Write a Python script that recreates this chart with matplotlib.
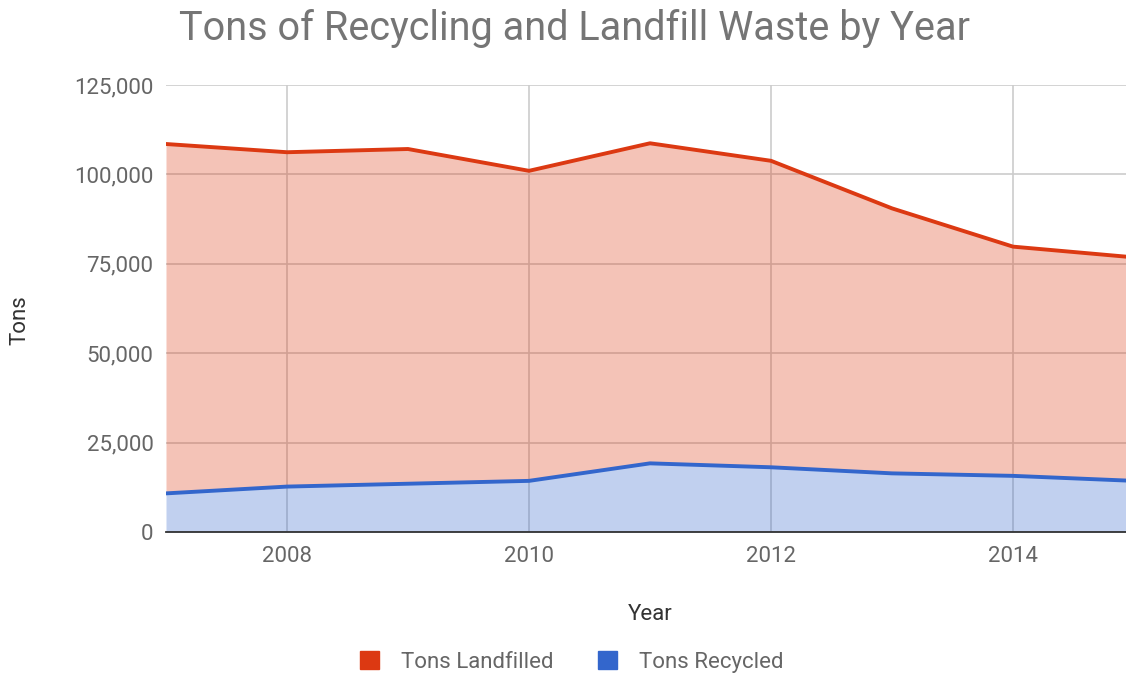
import matplotlib.pyplot as plt
from matplotlib.ticker import FuncFormatter
from matplotlib.patches import Patch

plt.rcParams['font.family'] = ['Roboto', 'DejaVu Sans']

years = [2007, 2008, 2009, 2010, 2011, 2012, 2013, 2014, 2015]
landfilled = [108500, 106200, 107100, 101000, 108700, 103800, 90500, 79800, 76800]
recycled = [10800, 12700, 13500, 14300, 19200, 18100, 16400, 15700, 14300]

red = '#dc3912'
blue = '#3366cc'

fig = plt.figure(figsize=(11.26, 6.79), dpi=100)
ax = fig.add_axes([166/1126, 1 - 532/679, (1134 - 166)/1126, (532 - 85)/679])

ax.fill_between(years, recycled, landfilled, color=red, alpha=0.3, lw=0, zorder=2)
ax.fill_between(years, 0, recycled, color=blue, alpha=0.3, lw=0, zorder=2)
ax.plot(years, landfilled, color=red, lw=2.8, zorder=3, solid_joinstyle='round')
ax.plot(years, recycled, color=blue, lw=2.8, zorder=3, solid_joinstyle='round')

ax.set_xlim(2007, 2015)
ax.set_ylim(0, 125000)
ax.set_xticks([2008, 2010, 2012, 2014])
ax.set_yticks(range(0, 125001, 25000))
ax.yaxis.set_major_formatter(FuncFormatter(lambda v, p: f'{int(v):,}'))
ax.grid(True, color='#cccccc', lw=1.2, zorder=1)
ax.set_axisbelow(True)
for s in ['top', 'right', 'left']:
    ax.spines[s].set_visible(False)
ax.spines['bottom'].set_color('#333333')
ax.spines['bottom'].set_linewidth(1.3)
ax.spines['bottom'].set_zorder(4)
ax.tick_params(length=0, labelsize=16, labelcolor='#666666')
ax.tick_params(axis='y', pad=9)
ax.tick_params(axis='x', pad=10)

fig.text(20/1126, 1 - 320/679, 'Tons', rotation=90, fontsize=16, color='#333333',
         ha='center', va='center')
fig.text(650/1126, 1 - 615/679, 'Year', fontsize=16, color='#333333',
         ha='center', va='center')
fig.text(179/1126, 1 - 28/679, 'Tons of Recycling and Landfill Waste by Year',
         fontsize=28.5, color='#757575', ha='left', va='center')

handles = [Patch(color=red, label='Tons Landfilled'),
           Patch(color=blue, label='Tons Recycled')]
fig.legend(handles=handles, loc='center', bbox_to_anchor=(572/1126, 1 - 662/679),
           ncol=2, frameon=False, fontsize=16, labelcolor='#666666',
           handlelength=0.85, handleheight=0.85, handletextpad=1.0, columnspacing=2.0)

fig.savefig('out.png', dpi=100)
